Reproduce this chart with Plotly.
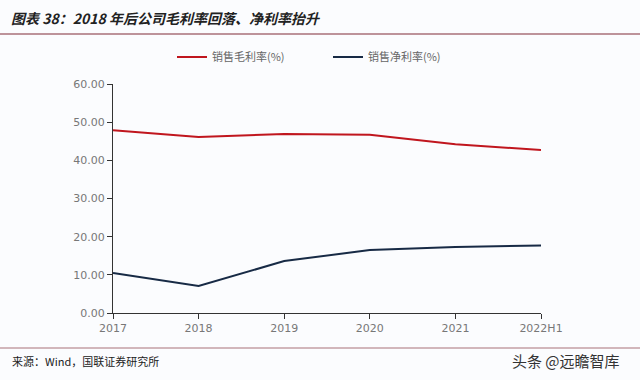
import plotly.graph_objects as go

categories = ["2017", "2018", "2019", "2020", "2021", "2022H1"]
gross_margin = [47.9, 46.1, 46.9, 46.7, 44.2, 42.7]
net_margin = [10.5, 7.1, 13.6, 16.5, 17.3, 17.7]
y_ticks = [0, 10, 20, 30, 40, 50, 60]
y_tick_labels = ["0.00", "10.00", "20.00", "30.00", "40.00", "50.00", "60.00"]

xs = list(range(len(categories)))
bg = "#fbfcfe"
PW, PH, L, B = 428, 229, 113, 67


def px(x):
    return (x - L) / PW


def py(y):
    return (380 - B - y) / PH


fig = go.Figure()
fig.add_trace(go.Scatter(x=xs, y=gross_margin, mode="lines", name="销售毛利率(%)",
                         line=dict(color="#c0161e", width=2)))
fig.add_trace(go.Scatter(x=xs, y=net_margin, mode="lines", name="销售净利率(%)",
                         line=dict(color="#172a45", width=2)))

font_cjk = "Noto Sans CJK SC"
fig.update_layout(
    width=640, height=380,
    paper_bgcolor=bg, plot_bgcolor=bg,
    margin=dict(l=L, r=640 - L - PW, t=84, b=B, autoexpand=False),
    showlegend=True,
    legend=dict(orientation="h", x=px(172), xanchor="left", y=py(57), yanchor="middle",
                font=dict(family=font_cjk, size=11, color="#666"),
                entrywidth=111, entrywidthmode="pixels", bgcolor="rgba(0,0,0,0)",
                itemwidth=30),
    xaxis=dict(range=[0, 5], tickmode="array", tickvals=xs, ticktext=categories,
               showgrid=False, zeroline=False, showline=True, linecolor="#333", linewidth=1,
               ticks="outside", ticklen=5, tickcolor="#333",
               tickfont=dict(family="DejaVu Sans", size=11, color="#777")),
    yaxis=dict(range=[0, 60], tickmode="array", tickvals=y_ticks, ticktext=y_tick_labels,
               showgrid=False, zeroline=False, showline=True, linecolor="#333", linewidth=1,
               ticks="outside", ticklen=5, tickcolor="#333",
               tickfont=dict(family="DejaVu Sans", size=11, color="#777")),
    shapes=[
        dict(type="line", xref="paper", yref="paper", x0=px(0), x1=px(640),
             y0=py(34), y1=py(34), line=dict(color="#a87078", width=1.5)),
        dict(type="line", xref="paper", yref="paper", x0=px(0), x1=px(640),
             y0=py(348), y1=py(348), line=dict(color="#a87078", width=1)),
    ],
    annotations=[
        dict(text="<b><i>图表 38：2018 年后公司毛利率回落、净利率抬升</i></b>",
             xref="paper", yref="paper", x=px(9), y=py(18),
             xanchor="left", yanchor="middle", showarrow=False,
             font=dict(family=font_cjk, size=14, color="#222")),
        dict(text="来源：Wind，国联证券研究所",
             xref="paper", yref="paper", x=px(10), y=py(361),
             xanchor="left", yanchor="middle", showarrow=False,
             font=dict(family=font_cjk, size=11, color="#222")),
        dict(text="头条 @远瞻智库",
             xref="paper", yref="paper", x=px(622), y=py(360),
             xanchor="right", yanchor="middle", showarrow=False,
             font=dict(family=font_cjk, size=15, color="#333")),
    ],
)
fig.write_html("out.html", config={"displayModeBar": False},
               post_script="document.body.style.margin='0';")
